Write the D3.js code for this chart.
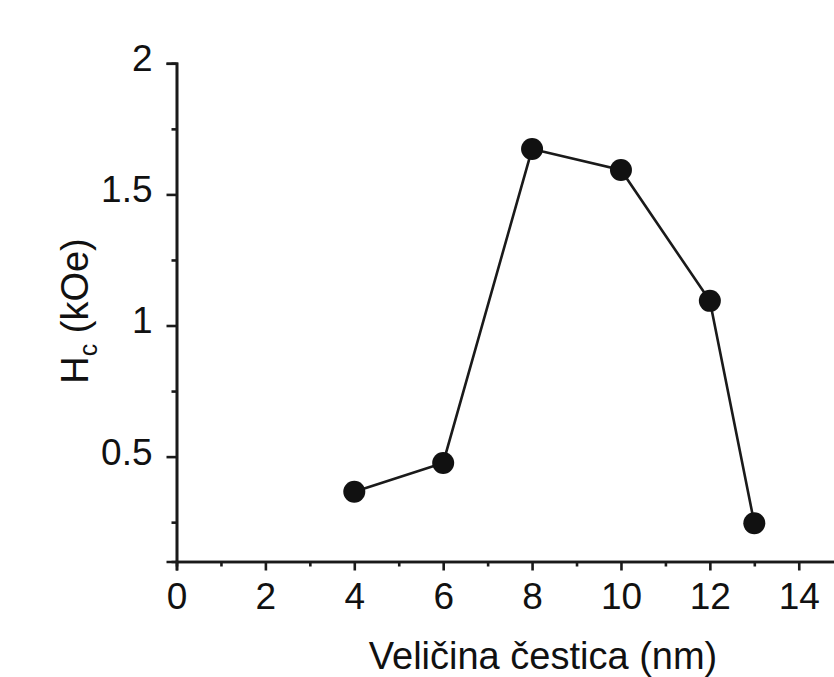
<!DOCTYPE html>
<html><head><meta charset="utf-8">
<script src="https://cdn.jsdelivr.net/npm/d3@7"></script>
<style>body{margin:0;background:#fff}svg{display:block}text{font-family:"Liberation Sans",Arial,sans-serif;fill:#111}</style>
</head><body>
<svg id="c" width="834" height="677"></svg>
<script>
const sizes = [4, 6, 8, 10, 12, 13];
const hc = [0.366, 0.476, 1.673, 1.593, 1.094, 0.246];
const xMajor = [0, 2, 4, 6, 8, 10, 12, 14];
const xMinor = [1, 3, 5, 7, 9, 11, 13, 15];
const yMajor = [0.5, 1, 1.5, 2];
const yMinor = [0.25, 0.75, 1.25, 1.75];
const yLabels = ["0.5", "1", "1.5", "2"];

const svg = d3.select("#c");
const x = d3.scaleLinear().domain([0, 15]).range([176.5, 843.2]);
const y = d3.scaleLinear().domain([0.1, 2]).range([561.5, 63.3]);
const x0 = 176.5, y0 = 561.5;
const col = "#1a1a1a";
const ff = '"Liberation Sans",Arial,sans-serif';

// x axis
const gx = svg.append("g").attr("transform", `translate(0,${y0})`);
gx.call(d3.axisBottom(x).tickValues(xMajor).tickSize(9).tickFormat(d3.format("d")));
gx.append("g").call(d3.axisBottom(x).tickValues(xMinor).tickSize(5).tickFormat(""));
gx.selectAll("path.domain").attr("stroke", col).attr("stroke-width", 2.6);
gx.selectAll(".tick line").attr("stroke", col).attr("stroke-width", 2.6);
gx.selectAll(".tick text").attr("font-size", 37).attr("y", 14).attr("dy", "0.9em").attr("fill", "#111")
  .attr("font-family", ff);

// y axis
const gy = svg.append("g").attr("transform", `translate(${x0},0)`);
gy.call(d3.axisLeft(y).tickValues(yMajor).tickSize(10).tickFormat((d, i) => yLabels[i]));
gy.append("g").call(d3.axisLeft(y).tickValues(yMinor).tickSize(5).tickFormat(""));
gy.selectAll("path.domain").attr("stroke", col).attr("stroke-width", 2.6);
gy.selectAll(".tick line").attr("stroke", col).attr("stroke-width", 2.6);
gy.selectAll(".tick text").attr("font-size", 37).attr("x", -24).attr("dy", "0.2em").attr("fill", "#111")
  .attr("font-family", ff);

// data
const pts = sizes.map((s, i) => [s, hc[i]]);
svg.append("path").datum(pts)
  .attr("fill", "none").attr("stroke", col).attr("stroke-width", 2.6)
  .attr("d", d3.line().x(d => x(d[0])).y(d => y(d[1])));
svg.selectAll("circle.pt").data(pts).enter().append("circle")
  .attr("cx", d => x(d[0])).attr("cy", d => y(d[1])).attr("r", 11).attr("fill", "#111");

// titles
svg.append("text").attr("x", 543).attr("y", 669).attr("text-anchor", "middle")
  .attr("font-size", 38).text("Veličina čestica (nm)");
const yt = svg.append("text").attr("transform", "translate(88,311) rotate(-90)")
  .attr("text-anchor", "middle").attr("font-size", 38);
yt.append("tspan").text("H");
yt.append("tspan").attr("font-size", 25).attr("dy", 9).text("c");
yt.append("tspan").attr("dy", -9).text(" (kOe)");
</script>
</body></html>
